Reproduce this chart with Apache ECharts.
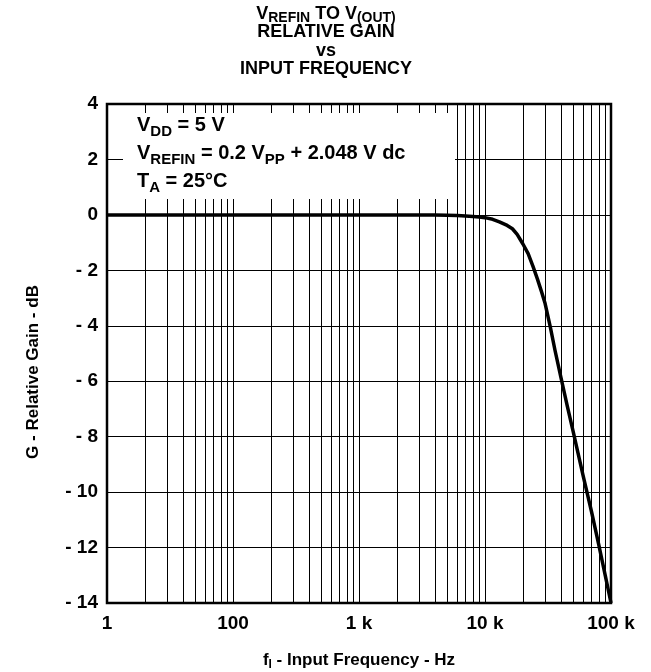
<!DOCTYPE html>
<html>
<head>
<meta charset="utf-8">
<script src="https://cdn.jsdelivr.net/npm/echarts@6/dist/echarts.min.js"></script>
<style>
  html, body { margin: 0; padding: 0; background: #fff; }
  #chart1 { width: 651px; height: 672px; }
</style>
</head>
<body>
<div id="chart1"></div>
<script>
// frequency (Hz) and relative gain (dB)
var freq = [10, 100, 1000, 2000, 4000, 5000, 6000, 7000, 8000, 9000, 10000, 11500, 13000, 15000, 16500, 18000, 20000, 22000, 24000, 26000, 28000, 30000, 33000, 36000, 40000, 45000, 50000, 60000, 70000, 80000, 90000, 100000];
var gain = [0, 0, 0, 0, 0, -0.01, -0.02, -0.04, -0.06, -0.08, -0.1, -0.16, -0.25, -0.38, -0.5, -0.7, -1.05, -1.4, -1.85, -2.3, -2.75, -3.2, -4.05, -4.9, -5.85, -6.9, -7.8, -9.4, -10.7, -11.9, -13.0, -14.0];

var xTickValues = [10, 100, 1000, 10000, 100000];
var xTickLabels = ['1', '100', '1 k', '10 k', '100 k'];

var font = 'Liberation Sans, Arial, sans-serif';

var seriesData = [];
for (var i = 0; i < freq.length; i++) {
    seriesData.push([freq[i], gain[i]]);
}

// vertical grid lines at 2..9 of every decade
var gridLines = [];
for (var d = 10; d < 100000; d *= 10) {
    for (var m = 2; m <= 9; m++) {
        gridLines.push({xAxis: m * d});
    }
}

var dom = document.getElementById("chart1");
var myChart = echarts.init(dom);

var option = {
    animation: false,
    backgroundColor: '#fff',
    grid: {
        left: 107,
        right: 40,
        top: 104,
        bottom: 69,
        show: true,
        borderColor: '#000',
        borderWidth: 2.5
    },
    xAxis: {
        type: 'log',
        logBase: 10,
        min: 10,
        max: 100000,
        axisLine: {show: false},
        axisTick: {show: false},
        splitLine: {show: true, lineStyle: {color: '#000', width: 1}},
        axisLabel: {
            margin: 11,
            color: '#000',
            fontFamily: font,
            fontWeight: 'bold',
            fontSize: 19,
            formatter: function (v) {
                var k = xTickValues.indexOf(Math.round(v));
                return k >= 0 ? xTickLabels[k] : '';
            }
        }
    },
    yAxis: {
        type: 'value',
        min: -14,
        max: 4,
        interval: 2,
        axisLine: {show: false},
        axisTick: {show: false},
        splitLine: {show: true, lineStyle: {color: '#000', width: 1}},
        axisLabel: {
            margin: 9,
            color: '#000',
            fontFamily: font,
            fontWeight: 'bold',
            fontSize: 19,
            formatter: function (v) {
                return v < 0 ? '- ' + (-v) : String(v);
            }
        }
    },
    series: [
        {
            type: 'line',
            data: seriesData,
            showSymbol: false,
            smooth: false,
            z: 5,
            lineStyle: {color: '#000', width: 3.5, join: 'round'},
            markLine: {
                silent: true,
                symbol: 'none',
                label: {show: false},
                lineStyle: {color: '#000', width: 1, type: 'solid'},
                data: gridLines
            }
        }
    ],
    graphic: [
        // white box behind the conditions text
        {
            type: 'rect', z: 50,
            shape: {x: 123, y: 113, width: 332, height: 86},
            style: {fill: '#fff'}
        },
        {
            type: 'text', z: 51, left: 137, top: 115,
            style: {
                text: '{a|V}{s|DD}{a| = 5 V}\n{a|V}{s|REFIN}{a| = 0.2 V}{s|PP}{a| + 2.048 V dc}\n{a|T}{s|A}{a| = 25°C}',
                rich: {
                    a: {fontFamily: font, fontWeight: 'bold', fontSize: 20, lineHeight: 28, fill: '#000'},
                    s: {fontFamily: font, fontWeight: 'bold', fontSize: 15, lineHeight: 15, verticalAlign: 'bottom', fill: '#000'}
                }
            }
        },
        // title
        {
            type: 'text', z: 51, x: 326, y: 3,
            style: {
                text: '{a|V}{s|REFIN}{a| TO V}{s|(OUT)}',
                align: 'center',
                rich: {
                    a: {fontFamily: font, fontWeight: 'bold', fontSize: 18, lineHeight: 22, fill: '#000'},
                    s: {fontFamily: font, fontWeight: 'bold', fontSize: 14, lineHeight: 12, verticalAlign: 'bottom', fill: '#000'}
                }
            }
        },
        {
            type: 'text', z: 51, x: 326, y: 23,
            style: {text: 'RELATIVE GAIN', align: 'center', font: 'bold 18px ' + font, fill: '#000'}
        },
        {
            type: 'text', z: 51, x: 326, y: 42,
            style: {text: 'vs', align: 'center', font: 'bold 18px ' + font, fill: '#000'}
        },
        {
            type: 'text', z: 51, x: 326, y: 60,
            style: {text: 'INPUT FREQUENCY', align: 'center', font: 'bold 18px ' + font, fill: '#000'}
        },
        // axis names
        {
            type: 'text', z: 51, x: 359, y: 649,
            style: {
                text: '{a|f}{s|I}{a| - Input Frequency - Hz}',
                align: 'center',
                rich: {
                    a: {fontFamily: font, fontWeight: 'bold', fontSize: 17, lineHeight: 22, fill: '#000'},
                    s: {fontFamily: font, fontWeight: 'bold', fontSize: 12, lineHeight: 12, verticalAlign: 'bottom', fill: '#000'}
                }
            }
        },
        {
            type: 'text', z: 51, x: 33, y: 372, rotation: Math.PI / 2,
            style: {
                text: 'G - Relative Gain - dB',
                align: 'center',
                verticalAlign: 'middle',
                font: 'bold 17px ' + font,
                fill: '#000'
            }
        }
    ]
};

if (option && typeof option === "object") {
    myChart.setOption(option, true);
}
</script>
</body>
</html>
